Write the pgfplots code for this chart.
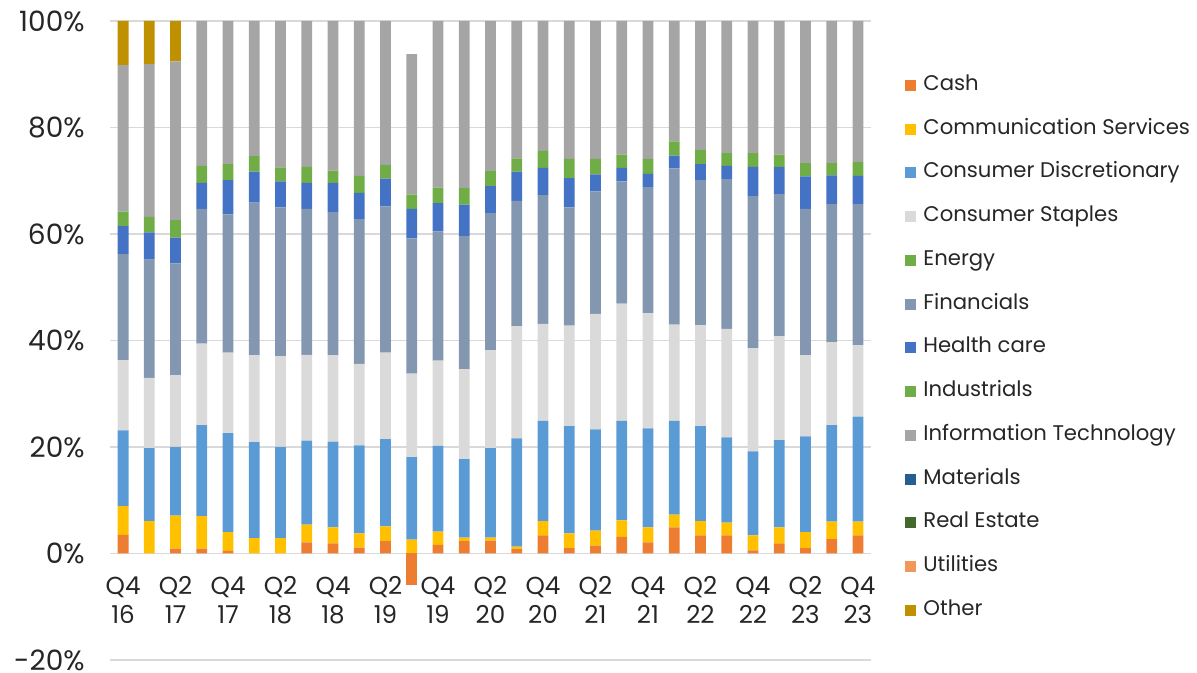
\documentclass[border=0pt]{standalone}
\usepackage{pgfplots}
\usepackage{pgfplotstable}
\pgfplotsset{compat=1.18}
\usepackage{fontspec}
\setmainfont{Poppins}
\definecolor{cCash}{HTML}{ED7D31}
\definecolor{cComm}{HTML}{FFC000}
\definecolor{cCD}{HTML}{5B9BD5}
\definecolor{cCS}{HTML}{DADADA}
\definecolor{cEn}{HTML}{70AD47}
\definecolor{cFin}{HTML}{8497B0}
\definecolor{cHC}{HTML}{4472C4}
\definecolor{cInd}{HTML}{70AD47}
\definecolor{cIT}{HTML}{A5A5A5}
\definecolor{cMat}{HTML}{255E91}
\definecolor{cRE}{HTML}{43682B}
\definecolor{cUt}{HTML}{F1975A}
\definecolor{cOth}{HTML}{BF9000}
\definecolor{gridc}{HTML}{D9D9D9}
\pgfplotstableread{
idx cash comm cd cs en fin hc ind it mat re ut oth
0 3.5 5.4 14.2 13.2 0 19.9 5.3 2.7 27.5 0 0 0 8.3
1 0 6.1 13.7 13.2 0 22.2 5.1 2.9 28.7 0 0 0 8.1
2 0.9 6.2 12.9 13.5 0 21.0 4.8 3.3 29.8 0 0 0 7.6
3 0.9 6.1 17.1 15.3 0 25.3 4.9 3.2 27.2 0 0 0 0
4 0.5 3.5 18.6 15.1 0 26.0 6.4 3.0 26.9 0 0 0 0
5 0 2.9 18.0 16.3 0 28.7 5.8 2.9 25.4 0 0 0 0
6 0 2.9 17.1 17.0 0 28.0 4.9 2.6 27.5 0 0 0 0
7 2.1 3.3 15.8 16.1 0 27.4 4.9 3.0 27.4 0 0 0 0
8 1.9 3.0 16.1 16.2 0 26.9 5.5 2.3 28.1 0 0 0 0
9 1.1 2.7 16.5 15.3 0 27.2 4.9 3.2 29.1 0 0 0 0
10 2.3 2.8 16.4 16.2 0 27.5 5.2 2.6 27.0 0 0 0 0
11 0 2.6 15.5 15.7 0 25.4 5.5 2.7 26.4 0 0 0 0
12 1.6 2.5 16.1 16.0 0 24.3 5.3 2.9 31.3 0 0 0 0
13 2.3 0.7 14.7 16.9 0 25.0 5.9 3.1 31.4 0 0 0 0
14 2.4 0.6 16.8 18.4 0 25.7 5.1 2.8 28.2 0 0 0 0
15 0.8 0.5 20.3 21.1 0 23.5 5.5 2.5 25.8 0 0 0 0
16 3.4 2.7 18.8 18.2 0 24.2 5.1 3.2 24.4 0 0 0 0
17 1.0 2.8 20.1 18.9 0 22.2 5.5 3.6 25.9 0 0 0 0
18 1.5 2.8 19.0 21.7 0 23.0 3.2 2.9 25.9 0 0 0 0
19 3.1 3.1 18.7 22.0 0 23.0 2.5 2.5 25.1 0 0 0 0
20 2.1 2.8 18.6 21.6 0 23.7 2.5 2.8 25.9 0 0 0 0
21 4.9 2.4 17.6 18.1 0 29.3 2.4 2.7 22.6 0 0 0 0
22 3.4 2.7 17.8 19.0 0 27.2 3.0 2.7 24.2 0 0 0 0
23 3.4 2.4 16.0 20.4 0 28.1 2.5 2.4 24.8 0 0 0 0
24 0.6 2.8 15.8 19.3 0 28.6 5.5 2.6 24.8 0 0 0 0
25 1.9 3.0 16.4 19.5 0 26.7 5.1 2.3 25.1 0 0 0 0
26 1.0 3.0 18.0 15.2 0 27.5 6.1 2.5 26.7 0 0 0 0
27 2.7 3.3 18.1 15.6 0 25.9 5.4 2.3 26.7 0 0 0 0
28 3.4 2.6 19.7 13.4 0 26.5 5.3 2.6 26.5 0 0 0 0
}\datatable
\pgfplotsset{
  common/.style={
    at={(0,0)}, anchor=south west,
    scale only axis, width=380.5pt, height=319.5pt,
    xmin=-0.5, xmax=28.5, ymin=-20, ymax=100,
    ybar stacked, bar width=0.41,
  }
}
\begin{document}
\begin{tikzpicture}
\begin{axis}[
  common,
  axis line style={draw=none},
  tick style={draw=none},
  ymajorgrids, grid style={draw=gridc, line width=0.8pt},
  ytick={-20,0,20,40,60,80,100},
  yticklabels={-20\%,0\%,20\%,40\%,60\%,80\%,100\%},
  yticklabel style={font=\fontsize{14}{16}\selectfont, inner sep=0pt, xshift=-12.5pt, text=black!85},
  xtick={0,2,...,28},
  xticklabels={{Q4\\16},{Q2\\17},{Q4\\17},{Q2\\18},{Q4\\18},{Q2\\19},{Q4\\19},{Q2\\20},{Q4\\20},{Q2\\21},{Q4\\21},{Q2\\22},{Q4\\22},{Q2\\23},{Q4\\23}},
  xticklabel style={font=\fontsize{12.3}{14.5}\selectfont, align=center, inner sep=0pt, yshift=42pt, text=black!85},
  legend image code/.code={\fill[#1] (0pt,-2.75pt) rectangle (5.5pt,2.75pt);},
  legend cell align=left,
  legend style={at={(1.0447,0.917)}, anchor=north west, draw=none, fill=none, inner sep=0pt,
    font=\fontsize{10.6}{12}\selectfont, row sep=10.87pt, column sep=3.5pt,
    nodes={inner sep=0pt, text height=8pt, text depth=3pt, text=black!85}},
]
\addplot[fill=cCash, draw=none] table[x=idx, y=cash] {\datatable};
\addlegendentry{Cash}
\addplot[fill=cComm, draw=none] table[x=idx, y=comm] {\datatable};
\addlegendentry{Communication Services}
\addplot[fill=cCD, draw=none] table[x=idx, y=cd] {\datatable};
\addlegendentry{Consumer Discretionary}
\addplot[fill=cCS, draw=none] table[x=idx, y=cs] {\datatable};
\addlegendentry{Consumer Staples}
\addplot[fill=cEn, draw=none] table[x=idx, y=en] {\datatable};
\addlegendentry{Energy}
\addplot[fill=cFin, draw=none] table[x=idx, y=fin] {\datatable};
\addlegendentry{Financials}
\addplot[fill=cHC, draw=none] table[x=idx, y=hc] {\datatable};
\addlegendentry{Health care}
\addplot[fill=cInd, draw=none] table[x=idx, y=ind] {\datatable};
\addlegendentry{Industrials}
\addplot[fill=cIT, draw=none] table[x=idx, y=it] {\datatable};
\addlegendentry{Information Technology}
\addplot[fill=cMat, draw=none] table[x=idx, y=mat] {\datatable};
\addlegendentry{Materials}
\addplot[fill=cRE, draw=none] table[x=idx, y=re] {\datatable};
\addlegendentry{Real Estate}
\addplot[fill=cUt, draw=none] table[x=idx, y=ut] {\datatable};
\addlegendentry{Utilities}
\addplot[fill=cOth, draw=none] table[x=idx, y=oth] {\datatable};
\addlegendentry{Other}
\end{axis}
\begin{axis}[common, hide axis]
\addplot[fill=cCash, draw=none] coordinates {(11,-6.0)};
\end{axis}
\pgfresetboundingbox
\path[use as bounding box] (-55pt,-6.5pt) rectangle (543.5pt,330pt);
\end{tikzpicture}
\end{document}
